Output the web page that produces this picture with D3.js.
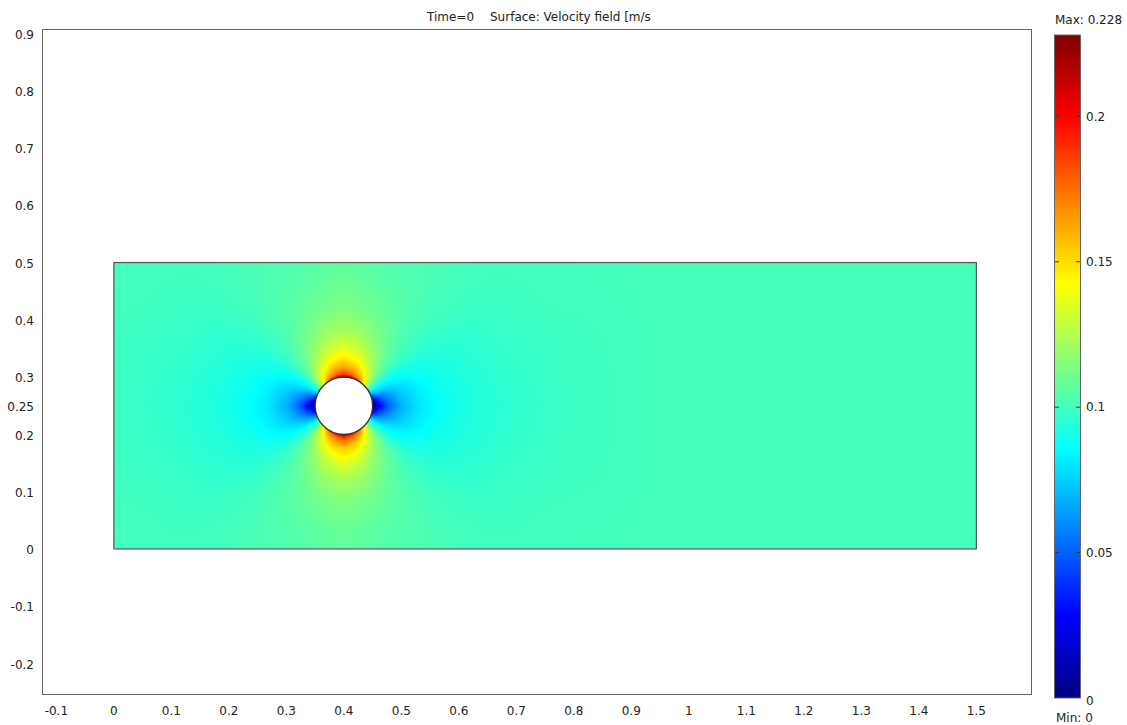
<!DOCTYPE html>
<html>
<head>
<meta charset="utf-8">
<style>
body { margin: 0; background: #fff; }
svg { display: block; }
text { font-family: "DejaVu Sans", Verdana, sans-serif; font-size: 12px; fill: #222; }
</style>
</head>
<body>
<svg width="1127" height="725"></svg>
<script src="https://d3js.org/d3.v7.min.js"></script>
<script>

// tick labels
var xTicks = [-0.1, 0, 0.1, 0.2, 0.3, 0.4, 0.5, 0.6, 0.7, 0.8, 0.9, 1, 1.1, 1.2, 1.3, 1.4, 1.5];
var yTicks = [-0.2, -0.1, 0, 0.1, 0.2, 0.25, 0.3, 0.4, 0.5, 0.6, 0.7, 0.8, 0.9];
var barTicks = [0, 0.05, 0.1, 0.15, 0.2];

// geometry (m)
var channelX = [0, 1.5];
var channelY = [0, 0.5];
var cylinderCenter = [0.4, 0.25];
var cylinderRadius = 0.05;

// velocity magnitude (m/s), around the cylinder
// rows = angle from flow axis (deg), columns = distance from cylinder centre (m)
var speedAngles = [0, 15, 30, 45, 60, 75, 90];
var speedRadii  = [0.05, 0.055, 0.06, 0.07, 0.08, 0.1, 0.13, 0.17, 0.22, 0.3, 0.4, 0.6];
var speedTable = [
  [0.000, 0.012, 0.022, 0.038, 0.052, 0.068, 0.080, 0.087, 0.092, 0.096, 0.099, 0.101],
  [0.035, 0.042, 0.050, 0.058, 0.065, 0.074, 0.082, 0.089, 0.093, 0.097, 0.099, 0.101],
  [0.090, 0.088, 0.087, 0.086, 0.086, 0.087, 0.090, 0.093, 0.095, 0.098, 0.100, 0.101],
  [0.140, 0.132, 0.126, 0.118, 0.112, 0.106, 0.102, 0.100, 0.100, 0.100, 0.100, 0.101],
  [0.180, 0.165, 0.155, 0.142, 0.132, 0.120, 0.111, 0.106, 0.104, 0.102, 0.101, 0.101],
  [0.203, 0.180, 0.168, 0.155, 0.145, 0.131, 0.119, 0.111, 0.106, 0.103, 0.102, 0.101],
  [0.215, 0.188, 0.175, 0.160, 0.150, 0.136, 0.123, 0.114, 0.109, 0.105, 0.103, 0.101]
];
var farSpeed = 0.101;
var minSpeed = 0, maxSpeed = 0.228;

var svg = d3.select("svg");

var x = d3.scaleLinear().domain([-0.125, 1.595]).range([42, 1031]);
var y = d3.scaleLinear().domain([-0.255, 0.906]).range([695, 30]);

// jet colour map
var jetStops = [0, 0.125, 0.375, 0.625, 0.875, 1];
var jetColors = ["#000080", "#0000ff", "#00ffff", "#ffff00", "#ff0000", "#800000"];
var color = d3.scaleLinear()
    .domain(jetStops.map(function(t) { return minSpeed + t * (maxSpeed - minSpeed); }))
    .range(jetColors)
    .clamp(true);

function speedAt(px, py) {
  var dx = px - cylinderCenter[0], dy = py - cylinderCenter[1];
  var r = Math.sqrt(dx * dx + dy * dy);
  if (r >= speedRadii[speedRadii.length - 1]) return farSpeed;
  var th = Math.atan2(Math.abs(dy), Math.abs(dx)) * 180 / Math.PI;
  var ri = Math.max(0, Math.min(speedRadii.length - 2, d3.bisectRight(speedRadii, r) - 1));
  var ai = Math.max(0, Math.min(speedAngles.length - 2, d3.bisectRight(speedAngles, th) - 1));
  var fr = Math.max(0, Math.min(1, (r - speedRadii[ri]) / (speedRadii[ri + 1] - speedRadii[ri])));
  var fa = (th - speedAngles[ai]) / (speedAngles[ai + 1] - speedAngles[ai]);
  var a = speedTable[ai][ri] * (1 - fr) + speedTable[ai][ri + 1] * fr;
  var b = speedTable[ai + 1][ri] * (1 - fr) + speedTable[ai + 1][ri + 1] * fr;
  return a * (1 - fa) + b * fa;
}

// surface plot painted on a canvas, then placed into the svg
var x0 = Math.round(x(channelX[0])), x1 = Math.round(x(channelX[1]));
var y0 = Math.round(y(channelY[1])), y1 = Math.round(y(channelY[0]));
var cw = x1 - x0, ch = y1 - y0;
var canvas = document.createElement("canvas");
canvas.width = cw; canvas.height = ch;
var ctx = canvas.getContext("2d");
var img = ctx.createImageData(cw, ch);
for (var j = 0; j < ch; j++) {
  for (var i = 0; i < cw; i++) {
    var vx = x.invert(x0 + i + 0.5), vy = y.invert(y0 + j + 0.5);
    var k = (j * cw + i) * 4;
    var c = d3.rgb(color(speedAt(vx, vy)));
    img.data[k] = c.r; img.data[k + 1] = c.g; img.data[k + 2] = c.b; img.data[k + 3] = 255;
  }
}
ctx.putImageData(img, 0, 0);

svg.append("image")
    .attr("x", x0).attr("y", y0)
    .attr("width", cw).attr("height", ch)
    .attr("href", canvas.toDataURL());

// channel outline
svg.append("rect")
    .attr("x", x(channelX[0])).attr("y", y(channelY[1]))
    .attr("width", x(channelX[1]) - x(channelX[0]))
    .attr("height", y(channelY[0]) - y(channelY[1]))
    .attr("fill", "none").attr("stroke", "#555").attr("stroke-width", 1.2);

// cylinder
svg.append("circle")
    .attr("cx", x(cylinderCenter[0])).attr("cy", y(cylinderCenter[1]))
    .attr("r", x(cylinderRadius) - x(0))
    .attr("fill", "#fff").attr("stroke", "#333").attr("stroke-width", 1.3);

// frame
svg.append("rect")
    .attr("x", 42.5).attr("y", 29.5)
    .attr("width", 989).attr("height", 665)
    .attr("fill", "none").attr("stroke", "#666").attr("stroke-width", 1);

// axis labels
svg.append("g").selectAll("text")
  .data(xTicks).enter().append("text")
    .attr("x", function(d) { return x(d); })
    .attr("y", 711)
    .attr("dy", "0.35em")
    .attr("text-anchor", "middle")
    .text(function(d) { return d; });

svg.append("g").selectAll("text")
  .data(yTicks).enter().append("text")
    .attr("x", 34)
    .attr("y", function(d) { return y(d) + 1; })
    .attr("dy", "0.35em")
    .attr("text-anchor", "end")
    .text(function(d) { return d; });

// title
svg.append("text").attr("x", 427).attr("y", 17).attr("dy", "0.35em").text("Time=0");
svg.append("text").attr("x", 490).attr("y", 17).attr("dy", "0.35em").text("Surface: Velocity field [m/s");

// colour bar
var bar = d3.scaleLinear().domain([minSpeed, maxSpeed]).range([698, 35]);
var grad = svg.append("defs").append("linearGradient")
    .attr("id", "jet").attr("x1", 0).attr("y1", 1).attr("x2", 0).attr("y2", 0);
grad.selectAll("stop")
  .data(jetStops).enter().append("stop")
    .attr("offset", function(d) { return d; })
    .attr("stop-color", function(d, i) { return jetColors[i]; });

svg.append("rect")
    .attr("x", 1054.5).attr("y", bar(maxSpeed))
    .attr("width", 26).attr("height", bar(minSpeed) - bar(maxSpeed))
    .attr("fill", "url(#jet)").attr("stroke", "#666").attr("stroke-width", 1);

var bt = svg.append("g").selectAll("g")
  .data(barTicks).enter().append("g")
    .attr("transform", function(d) { return "translate(0," + bar(d) + ")"; });
bt.filter(function(d) { return d > 0; }).append("path")
    .attr("d", "M1055,0H1059M1076,0H1080")
    .attr("stroke", "#333").attr("stroke-width", 1);
bt.append("text")
    .attr("x", 1086)
    .attr("y", function(d) { return d === 0 ? 3 : 0; })
    .attr("dy", "0.35em")
    .text(function(d) { return d; });

svg.append("text").attr("x", 1055).attr("y", 20).attr("dy", "0.35em").text("Max: " + maxSpeed);
svg.append("text").attr("x", 1056).attr("y", 718).attr("dy", "0.35em").text("Min: " + minSpeed);

</script>
</body>
</html>
